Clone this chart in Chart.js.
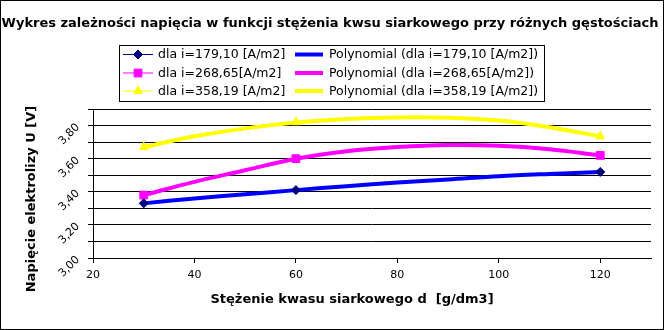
<!DOCTYPE html>
<html>
<head>
<meta charset="utf-8">
<script src="https://cdn.jsdelivr.net/npm/chart.js@4.4.0/dist/chart.umd.min.js"></script>
<style>
  body { margin: 0; background: #fff; }
  #wrap { width: 664px; height: 330px; }
</style>
</head>
<body>
<div id="wrap"><canvas id="wykres" width="664" height="330"></canvas></div>
<script>
// stężenie kwasu [g/dm3] dla punktów pomiarowych
const stezenie = [30, 60, 120];
const napiecie179 = [3.33, 3.41, 3.52];
const napiecie268 = [3.38, 3.60, 3.62];
const napiecie358 = [3.67, 3.82, 3.735];

// linie trendu (wielomian) odczytane co 10 g/dm3
const trendX = [30, 40, 50, 60, 70, 80, 90, 100, 110, 120];
const trend179 = [3.33, 3.36, 3.385, 3.41, 3.434, 3.456, 3.474, 3.494, 3.508, 3.52];
const trend268 = [3.38, 3.46, 3.53, 3.60, 3.645, 3.67, 3.682, 3.678, 3.657, 3.62];
const trend358 = [3.67, 3.735, 3.783, 3.818, 3.84, 3.849, 3.847, 3.83, 3.79, 3.735];

const etykiety = ['dla i=179,10 [A/m2]', 'dla i=268,65[A/m2]', 'dla i=358,19 [A/m2]'];
const tytul = 'Wykres zależności napięcia w funkcji stężenia kwsu siarkowego przy różnych gęstościach';
const tytulX = 'Stężenie kwasu siarkowego d  [g/dm3]';
const tytulY = 'Napięcie elektrolizy U [V]';

const FONT = '"DejaVu Sans", sans-serif';

function punkty(xs, ys) {
    return xs.map((x, i) => ({ x: x, y: ys[i] }));
}

const serie = [
    { dane: napiecie179, trend: trend179, kolor: '#000080', trendKolor: '#0000ff', styl: 'rectRot', r: 4.5 },
    { dane: napiecie268, trend: trend268, kolor: '#ff00ff', trendKolor: '#ff00ff', styl: 'rect', r: 5.5 },
    { dane: napiecie358, trend: trend358, kolor: '#ffff00', trendKolor: '#ffff00', styl: 'triangle', r: 5 }
];

let datasets = [];
// punkty pomiarowe na wierzchu
serie.forEach((s, i) => {
    datasets.push({
        label: etykiety[i],
        data: punkty(stezenie, s.dane),
        showLine: false,
        pointStyle: s.styl,
        pointRadius: s.r,
        backgroundColor: s.kolor,
        borderColor: s.kolor,
        borderWidth: 1
    });
});
serie.forEach((s, i) => {
    datasets.push({
        label: 'Polynomial (' + etykiety[i] + ')',
        data: punkty(trendX, s.trend),
        showLine: true,
        borderColor: s.trendKolor,
        borderWidth: 4,
        pointRadius: 0,
        tension: 0.35,
        fill: false
    });
});

const ramka = {
    id: 'ramka',
    beforeDraw(chart) {
        let ctx = chart.ctx;
        ctx.save();
        ctx.fillStyle = '#fff';
        ctx.fillRect(0, 0, chart.width, chart.height);
        ctx.restore();
    },
    afterDraw(chart) {
        let ctx = chart.ctx;
        ctx.save();
        ctx.strokeStyle = '#000';
        ctx.lineWidth = 1;
        ctx.strokeRect(0.5, 0.5, chart.width - 1, chart.height - 1);

        // tytuł
        ctx.fillStyle = '#000';
        ctx.font = 'bold 13px ' + FONT;
        ctx.textAlign = 'center';
        ctx.textBaseline = 'middle';
        ctx.fillText(tytul, 330, 24);

        // opisy osi
        ctx.font = 'bold 13px ' + FONT;
        ctx.fillText(tytulX, 352, 300);
        ctx.save();
        ctx.translate(32, 199);
        ctx.rotate(-Math.PI / 2);
        ctx.fillText(tytulY, 0, 0);
        ctx.restore();

        // legenda
        ctx.strokeRect(119.5, 45.5, 425, 56);
        ctx.font = '12.5px ' + FONT;
        ctx.textAlign = 'left';
        const wiersze = [54, 72.5, 90.5];
        serie.forEach((s, i) => {
            let y = wiersze[i];
            ctx.strokeStyle = s.kolor;
            ctx.lineWidth = 1;
            ctx.beginPath();
            ctx.moveTo(123, y + 0.5);
            ctx.lineTo(153, y + 0.5);
            ctx.stroke();
            ctx.fillStyle = s.kolor;
            ctx.strokeStyle = s.kolor;
            Chart.helpers.drawPoint(ctx, {
                pointStyle: s.styl, radius: s.r, rotation: 0, borderWidth: 1
            }, 138, y + 0.5);

            ctx.fillStyle = '#000';
            ctx.fillText(etykiety[i], 158, y + 1);

            ctx.strokeStyle = s.trendKolor;
            ctx.lineWidth = 4;
            ctx.beginPath();
            ctx.moveTo(295, y + 0.5);
            ctx.lineTo(323, y + 0.5);
            ctx.stroke();
            ctx.fillStyle = '#000';
            ctx.fillText('Polynomial (' + etykiety[i] + ')', 329, y + 1);
        });
        ctx.restore();
    }
};

new Chart(document.getElementById('wykres'), {
    type: 'scatter',
    data: { datasets },
    plugins: [ramka],
    options: {
        responsive: false,
        animation: false,
        devicePixelRatio: 1,
        layout: { padding: { top: 109, right: 13, left: 0, bottom: 0 } },
        plugins: {
            legend: { display: false },
            tooltip: { enabled: false }
        },
        scales: {
            x: {
                type: 'linear',
                min: 20,
                max: 130,
                afterFit(scale) { scale.height = 72; },
                afterBuildTicks(scale) {
                    scale.ticks = scale.ticks.filter(t => t.value <= 120);
                },
                grid: {
                    drawOnChartArea: false,
                    drawTicks: true,
                    tickLength: 5,
                    color: '#000'
                },
                border: { color: '#000', width: 1 },
                ticks: {
                    stepSize: 20,
                    padding: 6,
                    maxRotation: 0,
                    autoSkip: false,
                    color: '#000',
                    font: { family: FONT, size: 11 }
                }
            },
            y: {
                min: 3.0,
                max: 3.9,
                afterFit(scale) { scale.width = 93; },
                grid: {
                    color: '#000',
                    drawTicks: true,
                    tickLength: 5
                },
                border: { color: '#000', width: 1 },
                ticks: {
                    stepSize: 0.1,
                    autoSkip: false,
                    minRotation: 45,
                    maxRotation: 45,
                    padding: 10,
                    color: '#000',
                    font: { family: FONT, size: 11 },
                    callback(v) {
                        let n = Math.round(v * 10);
                        if (n % 2 !== 0) return '';
                        return (n / 10).toFixed(2).replace('.', ',');
                    }
                }
            }
        }
    }
});
</script>
</body>
</html>
